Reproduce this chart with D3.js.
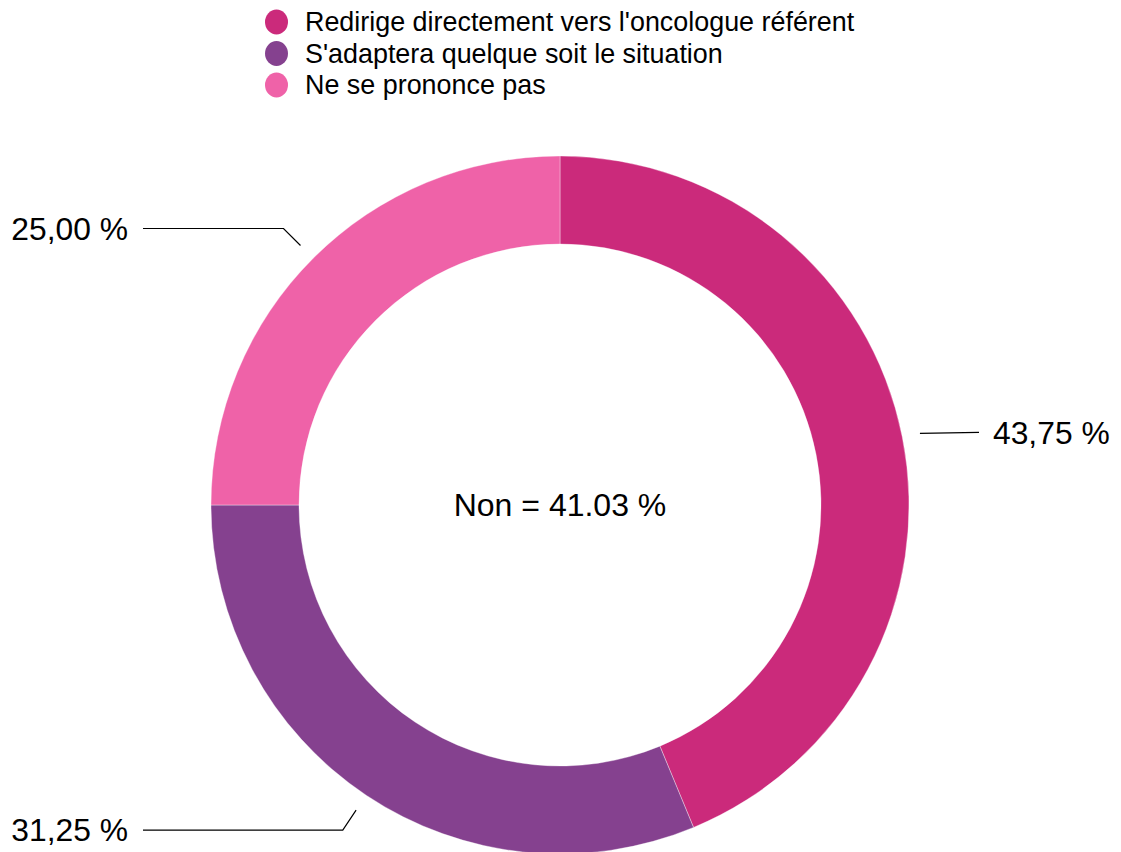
<!DOCTYPE html>
<html>
<head>
<meta charset="utf-8">
<script src="https://cdn.jsdelivr.net/npm/d3@7"></script>
<style>
  html, body { margin: 0; padding: 0; background: #fff; }
  svg { display: block; font-family: "Liberation Sans", Arial, Helvetica, sans-serif; }
</style>
</head>
<body>
<script>
// answers and their shares (percent)
const categories = ["Redirige directement vers l'oncologue référent", "S'adaptera quelque soit le situation", "Ne se prononce pas"];
const values = [43.75, 31.25, 25.00];
const labels = ["43,75 %", "31,25 %", "25,00 %"];
const colors = ["#cb2a7b", "#85418f", "#ef62a8"];
const centerText = "Non = 41.03 %";

const width = 1121, height = 852;
const cx = 560, cy = 505;
const rOuter = 349, rInner = 261;

const svg = d3.select("body").append("svg")
  .attr("width", width)
  .attr("height", height);

// legend at top
const legend = svg.append("g").attr("class", "legend");
const legendRow = legend.selectAll("g")
  .data(categories)
  .enter()
  .append("g")
  .attr("transform", (d, i) => `translate(276.5, ${22 + i * 31.5})`);

legendRow.append("ellipse")
  .attr("rx", 11.5)
  .attr("ry", 12.5)
  .style("fill", (d, i) => colors[i]);

legendRow.append("text")
  .attr("x", 28.5)
  .attr("dy", "0.35em")
  .style("font-size", "26.9px")
  .style("fill", "#000")
  .text(d => d);

// donut
const pie = d3.pie().sort(null).value(d => d);
const arcs = pie(values);

const arc = d3.arc()
  .innerRadius(rInner)
  .outerRadius(rOuter);

const chart = svg.append("g").attr("transform", `translate(${cx},${cy})`);

chart.selectAll("path")
  .data(arcs)
  .enter()
  .append("path")
  .attr("d", arc)
  .style("fill", (d, i) => colors[i])
  .style("stroke", "#fff")
  .style("stroke-width", 0.6)
  .style("stroke-opacity", 0.6);

// label connectors
const r1 = 367, r2 = 391;
const lineLeftX = 143 - cx, lineRightX = 979 - cx; // horizontal run ends

function pt(a, r) { return [Math.sin(a) * r, -Math.cos(a) * r]; }

arcs.forEach(function(d, i) {
  const a = (d.startAngle + d.endAngle) / 2;
  const p1 = pt(a, r1);
  const p2 = pt(a, r2);
  const right = Math.sin(a) > 0;
  let pts;
  if (right) {
    // nearly horizontal: keep it flat at the start point
    pts = [p1, [lineRightX, p1[1] - 1]];
    p2[1] = p1[1] - 1;
  } else {
    pts = [p1, p2, [lineLeftX, p2[1]]];
  }
  chart.append("path")
    .attr("d", d3.line()(pts))
    .style("fill", "none")
    .style("stroke", "#000")
    .style("stroke-width", 1.2);

  chart.append("text")
    .attr("x", right ? lineRightX + 14 : lineLeftX - 15)
    .attr("y", p2[1])
    .attr("dy", "0.35em")
    .attr("text-anchor", right ? "start" : "end")
    .style("font-size", "31.8px")
    .style("fill", "#000")
    .text(labels[i]);
});

// centre text
chart.append("text")
  .attr("text-anchor", "middle")
  .attr("dy", "0.35em")
  .style("font-size", "32px")
  .style("fill", "#000")
  .text(centerText);
</script>
</body>
</html>
